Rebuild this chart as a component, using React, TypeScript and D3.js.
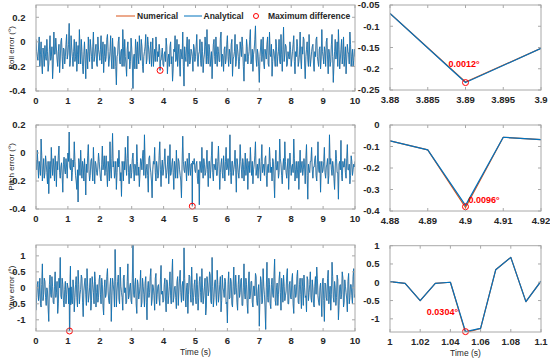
import React from 'react';
import * as d3 from 'd3';

// ---------- DATA ----------
const STEP = 0.04; // samples at t = 0, 0.04, 0.08 ... 10 ; mid samples at t = 0.02, 0.06 ...

const rollValues = [
  0.02, -0.12, -0.05, -0.2, 0.0, -0.26, -0.1, -0.03, -0.15, -0.08, -0.18, 0.05, -0.12, -0.3, 0.08, -0.1, -0.05, -0.2, -0.02, -0.14, 0.03, -0.22, -0.06, -0.12, 0.06,
  -0.1, 0.15, -0.15, -0.05, -0.2, 0.02, -0.12, -0.24, -0.03, 0.1, -0.18, -0.08, -0.26, 0.0, -0.3, -0.1, 0.04, -0.16, -0.05, -0.22, 0.08, -0.12, -0.02, -0.2, -0.06,
  -0.15, 0.05, -0.1, -0.25, -0.02, -0.12, 0.06, -0.2, -0.08, -0.14, 0.03, -0.22, -0.05, -0.35, -0.1, 0.04, -0.18, -0.06, 0.1, -0.2, -0.12, -0.28, 0.0, -0.08, -0.16,
  -0.05, -0.38, -0.1, 0.02, -0.22, -0.12, 0.05, -0.15, -0.04, -0.25, -0.08, 0.06, -0.14, -0.02, -0.18, 0.0, -0.1, -0.2, -0.06, 0.04, -0.16, -0.12, -0.07, -0.15, -0.05,
  -0.2, -0.08, 0.03, -0.26, -0.1, -0.04, -0.18, -0.32, -0.06, 0.05, -0.14, -0.2, -0.02, -0.28, -0.1, 0.08, -0.36, -0.12, -0.04, -0.2, 0.02, -0.15, -0.08, -0.24, -0.05,
  -0.12, 0.06, -0.2, -0.08, -0.15, 0.0, -0.25, -0.1, -0.04, 0.1, -0.18, -0.06, -0.14, -0.3, -0.02, -0.12, 0.04, -0.2, -0.08, -0.16, 0.08, -0.1, -0.24, -0.04, -0.14,
  0.05, -0.2, -0.1, -0.02, -0.28, -0.12, 0.06, -0.16, -0.06, -0.22, 0.0, -0.12, -0.04, -0.32, -0.1, 0.02, -0.18, -0.08, 0.1, -0.14, -0.24, -0.06, 0.13, -0.2, -0.1,
  -0.33, -0.05, -0.16, 0.04, -0.22, -0.1, -0.02, -0.18, 0.08, -0.12, -0.28, -0.06, -0.14, 0.02, -0.2, -0.08, -0.16, 0.06, -0.24, 0.12, -0.1, -0.04, -0.18, -0.12, 0.0,
  -0.2, -0.08, 0.05, -0.26, -0.12, -0.04, -0.16, 0.08, -0.22, -0.1, 0.02, -0.3, -0.06, -0.14, 0.06, -0.2, -0.08, -0.02, -0.24, -0.12, 0.04, -0.16, -0.06, -0.22, 0.1,
  -0.12, -0.04, -0.2, 0.03, -0.26, -0.1, -0.16, 0.06, -0.33, -0.08, -0.14, 0.0, 0.1, -0.22, -0.06, -0.18, 0.04, -0.12, -0.26, -0.02, -0.1, 0.08, -0.2, -0.06, -0.15,
  -0.12,
];
const rollMidValues = [
  -0.08, -0.15, 0.04, -0.1, -0.18, -0.05, -0.2, -0.12, 0.02, -0.24, -0.06, -0.15, -0.04, -0.18, -0.1, 0.03, -0.14, -0.08, -0.25, 0.0, -0.12, -0.05, -0.18, -0.02, -0.14,
  -0.02, -0.2, 0.05, -0.12, -0.08, -0.16, 0.0, -0.1, -0.18, -0.06, 0.02, -0.2, -0.1, -0.14, -0.06, -0.22, -0.08, 0.02, -0.12, -0.04, -0.16, -0.06, -0.18, 0.04, -0.1,
  -0.06, -0.18, 0.0, -0.12, -0.16, 0.02, -0.08, -0.14, 0.05, -0.22, -0.1, -0.04, -0.2, -0.12, 0.0, -0.16, -0.08, -0.2, -0.04, 0.02, -0.18, -0.06, -0.14, -0.22, 0.03,
  -0.18, -0.12, -0.22, -0.06, 0.0, -0.18, -0.1, 0.02, -0.2, -0.12, -0.04, -0.18, 0.04, -0.1, -0.06, -0.2, 0.03, -0.12, -0.16, -0.04, -0.08, -0.02, -0.15, -0.1, -0.18,
  -0.1, -0.16, -0.04, -0.14, -0.2, 0.0, -0.12, -0.22, -0.08, -0.16, 0.02, -0.1, -0.18, -0.06, -0.14, -0.2, -0.04, -0.16, 0.04, -0.1, -0.18, -0.06, -0.12, -0.02, -0.16,
  -0.04, -0.14, -0.1, 0.02, -0.2, -0.08, -0.14, 0.04, -0.18, -0.12, -0.02, -0.2, -0.08, -0.14, 0.02, -0.18, -0.1, -0.04, -0.16, 0.03, -0.2, -0.12, -0.06, -0.18, -0.02,
  -0.12, -0.06, -0.18, 0.02, -0.14, -0.08, -0.2, -0.02, -0.12, -0.16, -0.06, 0.04, -0.2, -0.1, -0.16, -0.04, -0.12, 0.02, -0.18, -0.06, -0.1, 0.02, -0.14, -0.06, -0.2,
  -0.12, 0.02, -0.1, -0.18, -0.06, -0.14, 0.04, -0.2, -0.1, -0.02, -0.16, -0.08, -0.2, -0.04, -0.12, 0.02, -0.18, -0.1, -0.06, -0.16, -0.02, -0.2, -0.08, -0.14, -0.06,
  -0.14, -0.02, -0.16, -0.08, 0.02, -0.2, -0.1, -0.14, -0.04, 0.04, -0.18, -0.12, 0.0, -0.2, -0.1, -0.14, -0.04, -0.18, -0.08, 0.02, -0.12, -0.2, -0.04, -0.14, -0.08,
  -0.18, -0.08, 0.0, -0.14, -0.06, -0.2, -0.02, -0.12, -0.18, 0.02, -0.1, -0.2, -0.06, -0.14, 0.02, -0.1, -0.2, -0.04, -0.14, -0.08, -0.18, -0.02, -0.12, -0.2, -0.06,
];

const pitchValues = [
  -0.05, 0.02, -0.18, -0.1, 0.1, -0.2, -0.04, -0.14, -0.08, -0.22, -0.29, -0.06, 0.04, -0.16, -0.1, -0.02, -0.24, -0.12, 0.05, -0.18, -0.07, -0.28, -0.03, -0.15, -0.1,
  0.0, 0.15, -0.12, -0.2, -0.05, 0.08, -0.16, -0.26, -0.35, -0.08, 0.02, -0.18, -0.1, -0.04, -0.3, -0.14, 0.06, -0.2, -0.06, -0.12, 0.04, -0.22, -0.08, -0.16, 0.0,
  -0.12, -0.2, 0.05, -0.08, -0.16, -0.02, -0.24, -0.1, 0.08, -0.18, 0.14, -0.06, -0.14, -0.26, -0.04, 0.02, -0.2, -0.31, -0.1, -0.06, 0.04, -0.16, 0.12, -0.22, -0.08,
  -0.14, 0.0, -0.2, -0.1, 0.06, -0.16, -0.24, -0.04, -0.12, 0.02, 0.13, -0.18, -0.08, -0.28, -0.02, -0.14, -0.32, -0.06, 0.04, -0.2, -0.1, -0.16, 0.08, -0.24, -0.05,
  -0.12, 0.03, -0.18, -0.08, -0.22, 0.06, -0.14, -0.04, -0.26, -0.1, 0.02, -0.18, -0.06, -0.16, -0.32, 0.12, -0.12, -0.06, -0.2, -0.1, 0.0, -0.16, -0.07, -0.07, -0.04,
  -0.14, -0.06, -0.22, -0.37, -0.1, 0.04, -0.18, -0.08, -0.14, 0.02, -0.24, -0.06, -0.12, 0.08, -0.2, -0.1, -0.04, -0.16, 0.05, -0.26, -0.08, -0.14, -0.02, -0.2, 0.04,
  -0.1, -0.16, 0.13, -0.22, -0.06, -0.12, 0.02, -0.28, -0.08, -0.18, 0.06, -0.12, -0.04, -0.2, 0.0, -0.1, -0.26, -0.06, 0.04, -0.16, -0.22, -0.08, 0.08, -0.12, -0.18,
  -0.04, -0.2, 0.06, -0.1, -0.16, -0.02, -0.24, -0.08, 0.04, -0.14, -0.2, -0.06, -0.32, 0.02, -0.12, -0.18, 0.1, -0.08, -0.22, -0.04, 0.08, -0.14, -0.1, -0.26, 0.0,
  -0.16, -0.08, 0.1, -0.2, -0.06, -0.12, -0.26, 0.02, -0.1, -0.16, -0.04, -0.22, 0.06, -0.33, -0.12, -0.06, 0.04, -0.18, -0.1, -0.02, -0.2, 0.08, -0.14, -0.28, -0.06,
  -0.12, 0.04, -0.18, -0.08, -0.22, 0.13, -0.04, -0.16, -0.1, -0.26, 0.02, -0.14, -0.33, -0.06, 0.09, -0.2, -0.1, -0.04, -0.18, 0.06, -0.12, -0.22, -0.02, -0.16, -0.08,
  -0.06,
];
const pitchMidValues = [
  -0.12, -0.08, -0.06, -0.16, -0.02, -0.12, -0.18, -0.02, -0.14, -0.06, -0.12, -0.18, -0.08, -0.04, -0.2, -0.1, -0.06, -0.02, -0.14, -0.1, -0.16, -0.08, -0.12, -0.04, -0.18,
  -0.06, -0.1, -0.04, -0.14, -0.1, -0.06, -0.2, -0.12, -0.04, -0.16, -0.1, -0.06, -0.2, -0.14, -0.08, -0.02, -0.12, -0.16, -0.04, -0.2, -0.1, -0.06, -0.14, -0.1, -0.06,
  -0.18, -0.08, -0.12, -0.02, -0.1, -0.14, -0.06, -0.2, -0.12, -0.04, -0.1, -0.18, -0.06, -0.14, -0.1, -0.08, -0.14, -0.06, -0.2, -0.12, -0.08, -0.04, -0.14, -0.1, -0.18,
  -0.04, -0.12, -0.08, -0.16, -0.06, -0.1, -0.14, -0.06, -0.02, -0.16, -0.08, -0.12, -0.16, -0.04, -0.1, -0.2, -0.12, -0.08, -0.14, -0.06, -0.18, -0.02, -0.12, -0.1, -0.16,
  -0.06, -0.1, -0.14, -0.02, -0.12, -0.16, -0.08, -0.14, -0.06, -0.18, -0.1, -0.04, -0.12, -0.2, -0.08, -0.06, -0.14, -0.1, -0.04, -0.16, -0.1, -0.08, -0.2, -0.08, -0.12,
  -0.08, -0.18, -0.12, -0.06, -0.14, -0.1, -0.04, -0.16, -0.08, -0.12, -0.06, -0.18, -0.02, -0.14, -0.08, -0.12, -0.16, -0.06, -0.1, -0.14, -0.04, -0.18, -0.1, -0.06, -0.12,
  -0.04, -0.1, -0.14, -0.06, -0.16, -0.08, -0.12, -0.04, -0.14, -0.1, -0.06, -0.18, -0.08, -0.12, -0.16, -0.04, -0.1, -0.14, -0.08, -0.06, -0.12, -0.02, -0.16, -0.08, -0.1,
  -0.12, -0.06, -0.14, -0.08, -0.04, -0.16, -0.1, -0.14, -0.06, -0.1, -0.04, -0.18, -0.08, -0.12, -0.06, -0.14, -0.04, -0.16, -0.1, -0.12, -0.06, -0.18, -0.04, -0.12, -0.08,
  -0.1, -0.14, -0.04, -0.12, -0.18, -0.06, -0.1, -0.14, -0.06, -0.12, -0.1, -0.04, -0.16, -0.08, -0.14, -0.06, -0.12, -0.1, -0.04, -0.16, -0.08, -0.12, -0.06, -0.1, -0.14,
  -0.06, -0.14, -0.1, -0.04, -0.16, -0.08, -0.12, -0.06, -0.18, -0.1, -0.04, -0.14, -0.08, -0.12, -0.16, -0.06, -0.1, -0.14, -0.04, -0.12, -0.08, -0.16, -0.06, -0.12, -0.1,
];

const yawValues = [
  -0.7, 0.1, -0.4, 0.3, -0.6, 0.75, -0.2, 0.2, -0.55, -0.1, -1.05, 0.4, -0.3, 0.05, -0.5, 0.5, -0.15, -0.8, 0.3, 0.95, -0.35, 0.1, -0.6, 0.2, -0.2,
  0.0, -0.1, 0.6, -0.4, 0.25, -0.75, 0.1, -0.3, 0.55, -0.5, -0.05, 0.3, -0.9, 0.15, -0.2, 0.6, -0.45, 0.0, -0.7, 0.35, -0.15, 0.5, -0.6, 0.1, -0.3,
  0.4, -0.5, 0.1, -0.85, 0.25, -0.2, 0.6, -0.4, 0.05, -1.05, 0.3, -0.1, 1.2, -0.6, 0.2, -0.35, 0.65, -0.15, -0.7, 0.4, 0.0, -0.45, 0.75, -0.25, 0.15,
  -0.5, 1.35, -0.3, 0.3, -0.8, 0.1, -0.2, 0.55, -0.45, 0.05, -0.6, 0.35, -1.0, 0.2, -0.15, 0.6, -0.35, 0.0, -0.7, 0.45, -0.2, 0.1, -0.55, 0.7, -0.1,
  -0.4, 0.3, -0.75, 0.15, -0.25, 0.5, -0.5, 0.9, -0.3, 0.05, -0.65, 0.35, -0.1, 0.55, -0.45, 0.2, 1.25, -0.35, 0.0, -0.8, 0.4, -0.2, 0.65, -0.55, 0.1,
  -0.3, 0.45, -0.7, 0.2, -0.15, 0.6, -0.5, 0.05, -0.85, 0.35, -0.25, 0.5, -0.4, 0.95, -0.6, 0.15, -0.2, 0.55, -0.45, 0.1, -0.75, 0.4, -0.1, 0.3, -0.5,
  -1.1, 0.5, -0.3, 0.2, -0.6, 0.65, -0.2, 0.0, -0.7, 0.4, -0.15, 0.3, -0.55, 0.75, -0.35, 0.1, -0.8, 0.5, -0.25, 0.2, -0.6, 0.05, 0.45, -0.4, -0.1,
  -1.2, 0.35, -0.5, 0.6, -0.2, -1.3, 0.8, -0.45, 0.1, -0.65, 0.3, -0.3, 0.9, -0.55, 0.15, -0.2, 0.5, -0.7, 0.05, 0.4, -0.4, -0.1, 0.6, -0.5, 0.2,
  -0.35, 0.45, -0.8, 0.1, -0.2, 0.55, -0.5, 0.3, -0.65, 0.05, 0.4, -0.3, -0.75, 0.25, -0.15, 0.5, -0.45, 0.0, -0.6, 0.35, 0.65, -0.25, -0.55, 0.15, -0.9,
  0.3, -1.05, 0.1, -0.4, 0.55, -0.2, -0.7, 0.8, -0.3, 0.2, -0.55, 0.4, -1.0, 0.05, -0.35, 0.5, -0.6, 0.25, -0.15, -0.75, 0.45, -0.3, 0.1, -0.5, 0.6,
  -0.2,
];
const yawMidValues = [
  -0.3, 0.2, -0.2, -0.5, 0.1, -0.4, 0.3, -0.3, 0.0, -0.6, 0.1, -0.2, 0.35, -0.45, 0.05, -0.3, 0.2, -0.5, 0.0, -0.25, 0.3, -0.4, -0.05, -0.5, 0.15,
  -0.5, -1.26, 0.2, -0.5, 0.0, -0.3, 0.35, -0.6, 0.1, -0.2, 0.4, -0.45, -0.1, 0.3, -0.55, 0.05, -0.25, 0.3, -0.4, 0.1, -0.5, 0.2, -0.15, -0.45, 0.25,
  -0.2, 0.3, -0.55, 0.0, -0.3, 0.35, -0.1, -0.5, 0.3, -0.25, 0.1, -0.6, 0.2, -0.1, 0.4, -0.5, 0.05, -0.3, 0.3, -0.15, -0.5, 0.2, -0.35, 0.05, -0.4,
  0.3, -0.2, 0.1, -0.5, 0.25, -0.35, 0.05, -0.6, 0.3, -0.2, 0.15, -0.45, 0.0, -0.3, 0.35, -0.55, 0.1, -0.25, 0.3, -0.5, 0.05, -0.35, 0.25, -0.2, -0.45,
  0.1, -0.35, 0.25, -0.5, 0.05, -0.25, 0.4, -0.45, 0.0, -0.3, 0.2, -0.55, 0.3, -0.15, 0.05, -0.4, 0.3, -0.6, 0.15, -0.2, 0.35, -0.45, 0.0, -0.3, 0.25,
  -0.5, 0.1, -0.3, 0.35, -0.45, 0.0, -0.25, 0.3, -0.6, 0.15, -0.1, 0.4, -0.5, 0.05, -0.3, 0.25, -0.55, 0.1, -0.2, 0.35, -0.4, 0.0, -0.3, 0.2, -0.45,
  0.1, -0.35, 0.3, -0.5, 0.05, -0.2, 0.4, -0.45, 0.1, -0.3, 0.25, -0.55, 0.0, -0.2, 0.3, -0.5, 0.15, -0.35, 0.2, -0.45, 0.05, -0.25, 0.35, -0.55, 0.1,
  -0.3, 0.2, -0.45, 0.05, -0.6, 0.0, -0.3, 0.3, -0.5, 0.1, -0.2, 0.35, -0.4, 0.0, -0.55, 0.25, -0.15, 0.3, -0.45, 0.05, -0.25, 0.4, -0.5, 0.1, -0.3,
  0.25, -0.5, 0.05, -0.3, 0.35, -0.45, 0.1, -0.2, 0.3, -0.55, 0.0, -0.25, 0.35, -0.4, 0.1, -0.3, 0.25, -0.5, 0.05, -0.2, 0.3, -0.45, 0.0, -0.35, 0.2,
  -0.4, 0.15, -0.3, 0.3, -0.5, 0.05, -0.2, 0.35, -0.45, 0.0, -0.3, 0.25, -0.55, 0.1, -0.2, 0.3, -0.45, 0.05, -0.35, 0.2, -0.5, 0.1, -0.25, 0.35, -0.3,
];

// zoomed windows (0.01 s sampling)
const rollDetailT = [3.88, 3.89, 3.9];
const rollDetailAnalytical = [-0.0696, -0.2325, -0.152];
const rollDetailNumerical = [-0.0696, -0.2313, -0.152];

const pitchDetailT = [4.88, 4.89, 4.9, 4.91, 4.92];
const pitchDetailAnalytical = [-0.074, -0.116, -0.374, -0.057, -0.068];
const pitchDetailNumerical = [-0.074, -0.116, -0.3836, -0.057, -0.068];

const yawDetailT = [1.0, 1.01, 1.02, 1.03, 1.04, 1.05, 1.06, 1.07, 1.08, 1.09, 1.1];
const yawDetailAnalytical = [0.02, -0.03, -0.5, -0.03, 0.0, -1.35, -1.26, 0.34, 0.68, -0.53, 0.03];
const yawDetailNumerical = [0.02, -0.03, -0.5, -0.03, 0.0, -1.3804, -1.26, 0.34, 0.68, -0.53, 0.03];

// maximum-difference points
const maxDiffT = [3.89, 4.9, 1.05];
const maxDiffV = [-0.2325, -0.38, -1.35];
const maxDiffLabels = ['0.0012°', '0.0096°', '0.0304°'];

// tick values
const timeTicks = [0, 1, 2, 3, 4, 5, 6, 7, 8, 9, 10];
const rollYTicks = [-0.4, -0.2, 0, 0.2];
const pitchYTicks = [-0.4, -0.2, 0, 0.2];
const yawYTicks = [-1, -0.5, 0, 0.5, 1];
const rollZoomXTicks = [3.88, 3.885, 3.89, 3.895, 3.9];
const rollZoomYTicks = [-0.25, -0.2, -0.15, -0.1, -0.05];
const pitchZoomXTicks = [4.88, 4.89, 4.9, 4.91, 4.92];
const pitchZoomYTicks = [-0.4, -0.3, -0.2, -0.1, 0];
const yawZoomXTicks = [1, 1.02, 1.04, 1.06, 1.08, 1.1];
const yawZoomYTicks = [-1, -0.5, 0, 0.5, 1];

const yLabels = ['Roll error (°)', 'Pitch error (°)', 'Yaw error (°)'];
const legendLabels = ['Numerical', 'Analytical', 'Maximum difference'];

// ---------- STYLE ----------
const BLUE = '#0072BD';
const RED = '#D95319';
const MARK = '#FF0000';
const AXIS = '#a8a8a8';
const TXT = '#262626';
const FONT = '"Liberation Sans", Arial, Helvetica, sans-serif';

type Pt = { t: number; v: number };

function buildSeries(values: number[], midValues: number[], detailT: number[], detailV: number[]): Pt[] {
  const t0 = detailT[0];
  const t1 = detailT[detailT.length - 1];
  const coarse = values.map((v, i) => ({ t: +(i * STEP).toFixed(4), v }));
  const mid = midValues.map((v, i) => ({ t: +(STEP / 2 + i * STEP).toFixed(4), v }));
  const pts: Pt[] = coarse.concat(mid).filter((p) => p.t < t0 - 1e-9 || p.t > t1 + 1e-9);
  detailT.forEach((t, i) => pts.push({ t, v: detailV[i] }));
  pts.sort((a, b) => a.t - b.t);
  return pts;
}

type PanelProps = {
  id: string;
  x0: number; x1: number; y0: number; y1: number;
  xDomain: [number, number]; yDomain: [number, number];
  xTicks: number[]; yTicks: number[];
  numerical: Pt[]; analytical: Pt[];
  lineWidth: number; redWidth: number;
  marker: Pt;
  ylabel?: string;
  xlabel?: string;
  annotation?: { text: string; dx: number; dy: number; anchor: string };
};

function Panel(p: PanelProps) {
  const x = d3.scaleLinear().domain(p.xDomain).range([p.x0, p.x1]);
  const y = d3.scaleLinear().domain(p.yDomain).range([p.y1, p.y0]);
  const line = d3.line<Pt>().x((d) => x(d.t)).y((d) => y(d.v));
  const tl = 3;
  const mx = x(p.marker.t);
  const my = y(p.marker.v);
  return (
    <g>
      <defs>
        <clipPath id={p.id}>
          <rect x={p.x0} y={p.y0} width={p.x1 - p.x0} height={p.y1 - p.y0} />
        </clipPath>
      </defs>
      <rect x={p.x0} y={p.y0} width={p.x1 - p.x0} height={p.y1 - p.y0} fill="#fff" />
      <g clipPath={`url(#${p.id})`}>
        <path d={line(p.numerical) || ''} fill="none" stroke={RED} strokeWidth={p.redWidth} strokeLinejoin="round" />
        <path d={line(p.analytical) || ''} fill="none" stroke={BLUE} strokeWidth={p.lineWidth} strokeLinejoin="round" />
      </g>
      <circle cx={mx} cy={my} r={3} fill="none" stroke={MARK} strokeWidth={1} />
      <rect x={p.x0} y={p.y0} width={p.x1 - p.x0} height={p.y1 - p.y0} fill="none" stroke={AXIS} strokeWidth={1} />
      {p.xTicks.map((t) => (
        <g key={`xt${t}`}>
          <line x1={x(t)} x2={x(t)} y1={p.y1} y2={p.y1 - tl} stroke={AXIS} />
          <line x1={x(t)} x2={x(t)} y1={p.y0} y2={p.y0 + tl} stroke={AXIS} />
          <text x={x(t)} y={p.y1 + 12.5} textAnchor="middle" fontSize={9.5} fontWeight="bold" fill={TXT}>{String(t)}</text>
        </g>
      ))}
      {p.yTicks.map((t) => (
        <g key={`yt${t}`}>
          <line x1={p.x0} x2={p.x0 + tl} y1={y(t)} y2={y(t)} stroke={AXIS} />
          <line x1={p.x1} x2={p.x1 - tl} y1={y(t)} y2={y(t)} stroke={AXIS} />
          <text x={p.x0 - 10.5} y={y(t) + 3.3} textAnchor="end" fontSize={9.5} fontWeight="bold" fill={TXT}>{String(t)}</text>
        </g>
      ))}
      {p.ylabel && (
        <text transform={`translate(${p.x0 - 22.5},${(p.y0 + p.y1) / 2}) rotate(-90)`} textAnchor="middle" fontSize={8} fill={TXT}>{p.ylabel}</text>
      )}
      {p.xlabel && (
        <text x={(p.x0 + p.x1) / 2} y={p.y1 + 24} textAnchor="middle" fontSize={8.5} fill={TXT}>{p.xlabel}</text>
      )}
      {p.annotation && (
        <text x={mx + p.annotation.dx} y={my + p.annotation.dy} textAnchor={p.annotation.anchor as any} fontSize={9} fontWeight="bold" fill={MARK}>{p.annotation.text}</text>
      )}
    </g>
  );
}

export default function App() {
  const rollA = buildSeries(rollValues, rollMidValues, rollDetailT, rollDetailAnalytical);
  const rollN = buildSeries(rollValues, rollMidValues, rollDetailT, rollDetailNumerical);
  const pitchA = buildSeries(pitchValues, pitchMidValues, pitchDetailT, pitchDetailAnalytical);
  const pitchN = buildSeries(pitchValues, pitchMidValues, pitchDetailT, pitchDetailNumerical);
  const yawA = buildSeries(yawValues, yawMidValues, yawDetailT, yawDetailAnalytical);
  const yawN = buildSeries(yawValues, yawMidValues, yawDetailT, yawDetailNumerical);

  const zoomPts = (T: number[], V: number[]) => T.map((t, i) => ({ t, v: V[i] }));

  const L = { x0: 36, x1: 355 };
  const R = { x0: 390, x1: 541 };

  return (
    <svg width={550} height={361} style={{ position: 'absolute', left: 0, top: 0, background: '#fff' }} fontFamily={FONT}>
      <rect width={550} height={361} fill="#fff" />
      {/* Roll */}
      <Panel id="c1" {...L} y0={5} y1={91} xDomain={[0, 10]} yDomain={[-0.4, 0.3]}
        xTicks={timeTicks} yTicks={rollYTicks} numerical={rollN} analytical={rollA} lineWidth={0.8} redWidth={0.4}
        marker={{ t: maxDiffT[0], v: maxDiffV[0] }} ylabel={yLabels[0]} />
      <Panel id="c2" {...R} y0={5} y1={90} xDomain={[3.88, 3.9]} yDomain={[-0.25, -0.05]}
        xTicks={rollZoomXTicks} yTicks={rollZoomYTicks}
        numerical={zoomPts(rollDetailT, rollDetailNumerical)} analytical={zoomPts(rollDetailT, rollDetailAnalytical)} lineWidth={1.2} redWidth={1.2}
        marker={{ t: maxDiffT[0], v: maxDiffV[0] }}
        annotation={{ text: maxDiffLabels[0], dx: -1.5, dy: -16, anchor: 'middle' }} />
      {/* Pitch */}
      <Panel id="c3" {...L} y0={125} y1={209} xDomain={[0, 10]} yDomain={[-0.4, 0.2]}
        xTicks={timeTicks} yTicks={pitchYTicks} numerical={pitchN} analytical={pitchA} lineWidth={0.8} redWidth={0.4}
        marker={{ t: maxDiffT[1], v: maxDiffV[1] }} ylabel={yLabels[1]} />
      <Panel id="c4" {...R} y0={125} y1={211} xDomain={[4.88, 4.92]} yDomain={[-0.4, 0]}
        xTicks={pitchZoomXTicks} yTicks={pitchZoomYTicks}
        numerical={zoomPts(pitchDetailT, pitchDetailNumerical)} analytical={zoomPts(pitchDetailT, pitchDetailAnalytical)} lineWidth={1.2} redWidth={1.2}
        marker={{ t: maxDiffT[1], v: maxDiffV[1] }}
        annotation={{ text: maxDiffLabels[1], dx: 3, dy: -4, anchor: 'start' }} />
      {/* Yaw */}
      <Panel id="c5" {...L} y0={245} y1={331} xDomain={[0, 10]} yDomain={[-1.35, 1.34]}
        xTicks={timeTicks} yTicks={yawYTicks} numerical={yawN} analytical={yawA} lineWidth={0.8} redWidth={0.4}
        marker={{ t: maxDiffT[2], v: maxDiffV[2] }} ylabel={yLabels[2]} xlabel="Time (s)" />
      <Panel id="c6" {...R} y0={245.7} y1={332} xDomain={[1, 1.1]} yDomain={[-1.36, 1]}
        xTicks={yawZoomXTicks} yTicks={yawZoomYTicks}
        numerical={zoomPts(yawDetailT, yawDetailNumerical)} analytical={zoomPts(yawDetailT, yawDetailAnalytical)} lineWidth={1.2} redWidth={1.2}
        marker={{ t: maxDiffT[2], v: maxDiffV[2] }} xlabel="Time (s)"
        annotation={{ text: maxDiffLabels[2], dx: -7.5, dy: -16.5, anchor: 'end' }} />
      {/* Legend */}
      <g fontSize={8.5} fontWeight="bold" fill={TXT}>
        <line x1={116} x2={135} y1={16} y2={16} stroke={RED} strokeWidth={1} />
        <text x={137} y={19}>{legendLabels[0]}</text>
        <line x1={184} x2={202} y1={16} y2={16} stroke={BLUE} strokeWidth={1} />
        <text x={203.5} y={19}>{legendLabels[1]}</text>
        <circle cx={256} cy={16} r={2.5} fill="none" stroke={MARK} strokeWidth={1} />
        <text x={268} y={19}>{legendLabels[2]}</text>
      </g>
    </svg>
  );
}
